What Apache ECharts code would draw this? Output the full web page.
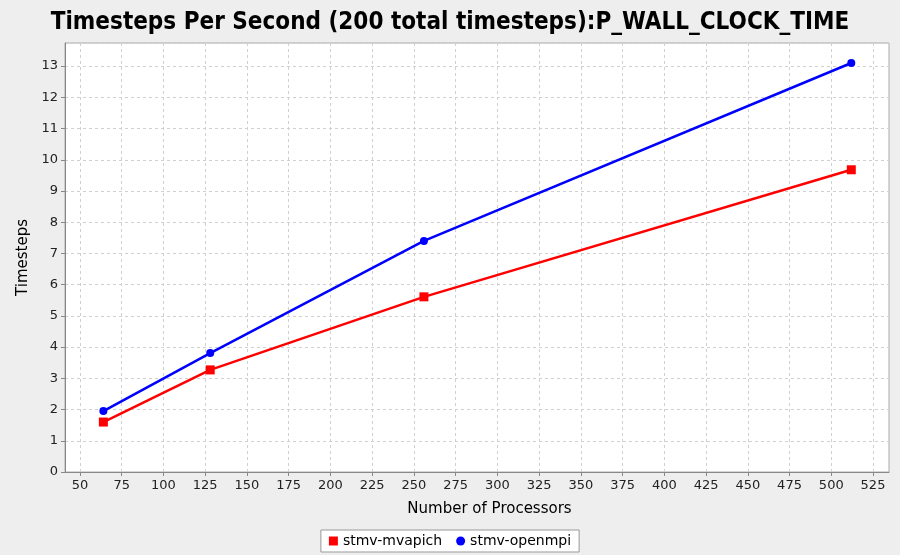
<!DOCTYPE html>
<html>
<head>
<meta charset="utf-8">
<script src="https://cdn.jsdelivr.net/npm/echarts@6/dist/echarts.min.js"></script>
<style>
  html, body { margin: 0; padding: 0; background: #eeeeee; }
  #main { width: 900px; height: 555px; }
</style>
</head>
<body>
<div id="main"></div>
<script>
// processors on x, timesteps per second on y
var processors = [64, 128, 256, 512];
var mvapich = [1.60, 3.27, 5.61, 9.68];
var openmpi = [1.95, 3.81, 7.40, 13.10];
var seriesNames = ['stmv-mvapich', 'stmv-openmpi'];

var font = 'DejaVu Sans';

var myChart = echarts.init(document.getElementById('main'));

myChart.setOption({
  backgroundColor: '#eeeeee',
  animation: false,
  title: {
    text: 'Timesteps Per Second (200 total timesteps):P_WALL_CLOCK_TIME',
    left: 'center',
    top: 6,
    textStyle: { fontFamily: 'DejaVu Sans Condensed', fontWeight: 'bold', fontSize: 24, color: '#000' }
  },
  legend: {
    data: [
      { name: seriesNames[0], icon: 'rect' },
      { name: seriesNames[1], icon: 'circle' }
    ],
    bottom: 3,
    left: 'center',
    itemWidth: 9,
    itemHeight: 9,
    itemGap: 14,
    padding: [4, 8],
    borderColor: '#999',
    borderWidth: 1,
    backgroundColor: '#fff',
    textStyle: { fontFamily: font, fontSize: 14, color: '#000' }
  },
  grid: [
    // plot frame
    { left: 65, right: 11, top: 43, bottom: 83, show: true,
      backgroundColor: '#fff', borderColor: '#aaa', borderWidth: 1 },
    // 50..525 x range
    { left: 80, right: 27, top: 43, bottom: 83 }
  ],
  xAxis: [
    {
      gridIndex: 0, type: 'value', min: 0, max: 1,
      name: 'Number of Processors', nameLocation: 'middle', nameGap: 30,
      nameTextStyle: { fontFamily: font, fontSize: 15, color: '#000', padding: [0, 0, 0, 25] },
      axisLine: { show: true, lineStyle: { color: '#888' } },
      axisTick: { show: false }, axisLabel: { show: false }, splitLine: { show: false }
    },
    {
      gridIndex: 1, type: 'value', min: 50, max: 525, interval: 25,
      axisLine: { show: false },
      axisTick: { show: true, length: 4, lineStyle: { color: '#888' } },
      axisLabel: { fontFamily: font, fontSize: 13, color: '#222', margin: 7 },
      splitLine: { show: true, lineStyle: { color: '#d0d0d0', type: [3, 3] } }
    }
  ],
  yAxis: [
    {
      gridIndex: 0, type: 'value', min: 0, max: 13.74, interval: 1,
      name: 'Timesteps', nameLocation: 'middle', nameGap: 30,
      nameTextStyle: { fontFamily: font, fontSize: 15, color: '#000' },
      axisLine: { show: true, lineStyle: { color: '#888' } },
      axisTick: { show: true, length: 4, lineStyle: { color: '#888' } },
      axisLabel: { fontFamily: font, fontSize: 13, color: '#222', margin: 7, showMaxLabel: false },
      splitLine: { show: true, lineStyle: { color: '#d0d0d0', type: [3, 3] } }
    },
    {
      gridIndex: 1, type: 'value', min: 0, max: 13.74, show: false
    }
  ],
  series: [
    {
      name: seriesNames[0], type: 'line', xAxisIndex: 1, yAxisIndex: 1,
      data: processors.map(function (p, i) { return [p, mvapich[i]]; }),
      symbol: 'rect', symbolSize: 9,
      itemStyle: { color: '#ff0000' },
      lineStyle: { color: '#ff0000', width: 2.5 }
    },
    {
      name: seriesNames[1], type: 'line', xAxisIndex: 1, yAxisIndex: 1,
      data: processors.map(function (p, i) { return [p, openmpi[i]]; }),
      symbol: 'circle', symbolSize: 8,
      itemStyle: { color: '#0000ff' },
      lineStyle: { color: '#0000ff', width: 2.5 }
    }
  ]
});
</script>
</body>
</html>
